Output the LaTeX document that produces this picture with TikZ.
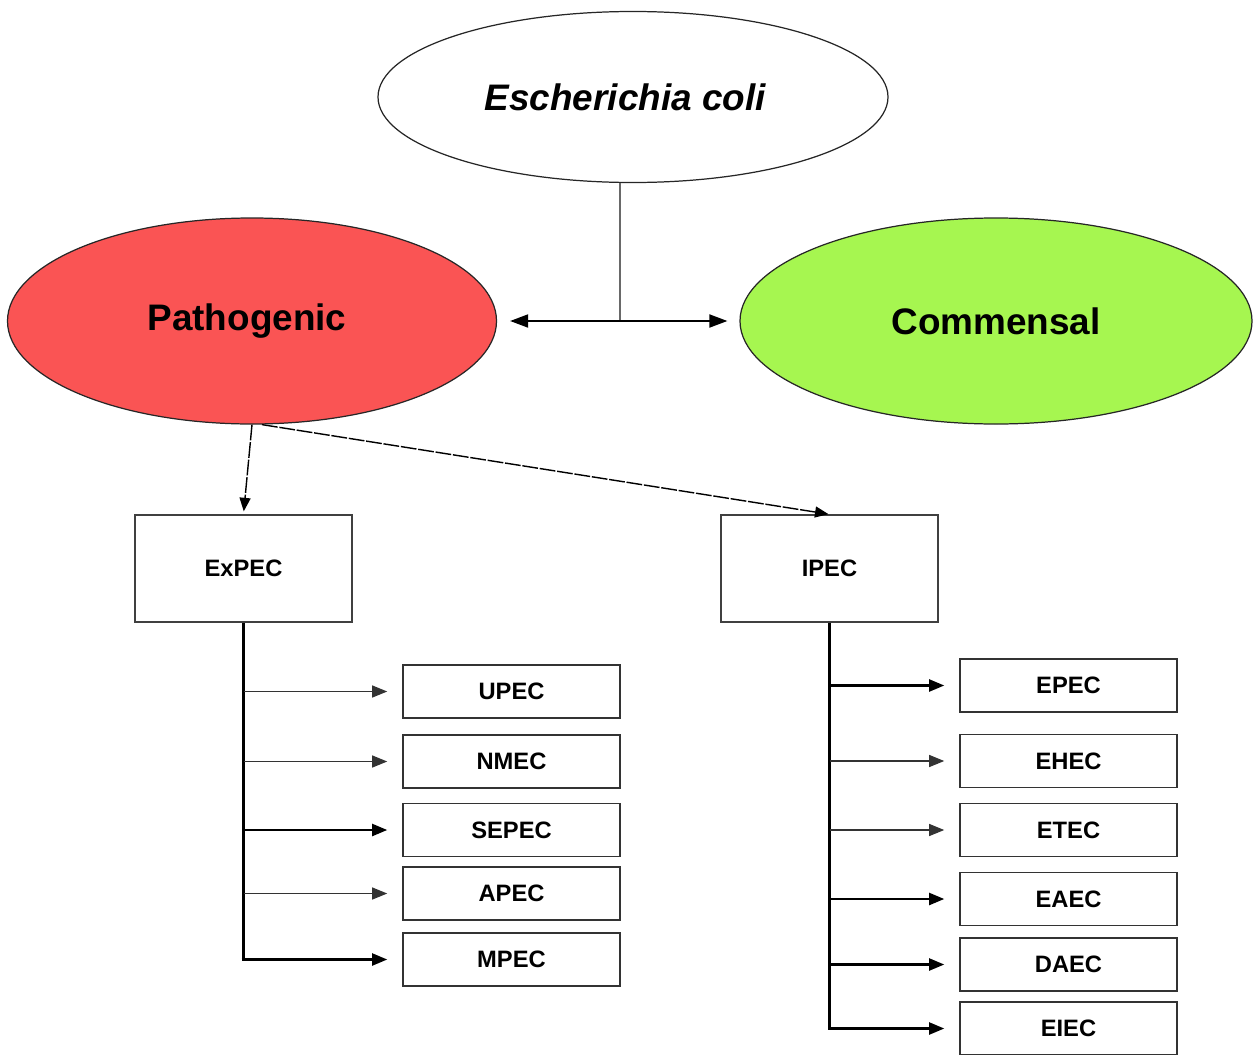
\documentclass[tikz,border=0pt]{standalone}
\usepackage{fontspec}
\setmainfont{Liberation Sans}
\usepackage{tikz}
\usetikzlibrary{shapes.geometric,arrows.meta}

\definecolor{patred}{RGB}{250,84,84}
\definecolor{comgreen}{RGB}{166,246,80}
\definecolor{stemgray}{RGB}{105,105,105}

\begin{document}
\begin{tikzpicture}[
	oval/.style={draw=black!85, line width=0.7pt, ellipse, inner sep=0pt, font=\fontsize{21}{25}\selectfont\bfseries},
	bigbox/.style={draw=black!75, line width=0.8pt, minimum width=4.34cm, minimum height=2.14cm, font=\fontsize{13.5}{16}\selectfont\bfseries},
	subbox/.style={draw=black!80, line width=0.9pt, minimum width=4.34cm, minimum height=1.06cm, font=\fontsize{13.5}{16}\selectfont\bfseries},
	tip/.style={-{Triangle[length=0.3cm,width=0.24cm]}, shorten >=0.3cm},
	thinbranch/.style={tip, line width=0.6pt, draw=black!80},
	fatbranch/.style={tip, line width=1.2pt},
	feed/.style={line width=0.8pt, dash pattern=on 9pt off 1pt, -{Triangle[length=0.27cm,width=0.22cm]}}
	]
	\useasboundingbox (0,0) rectangle (25.14,-21.1);

	% top level
	\node[oval, fill=white, minimum width=10.2cm, minimum height=3.42cm] (ecoli) at (12.66,-1.94) {\textit{Escherichia coli}\hspace*{0.3cm}};
	\node[oval, fill=patred, minimum width=9.78cm, minimum height=4.12cm] (patho) at (5.04,-6.42) {Pathogenic\hspace*{0.2cm}};
	\node[oval, fill=comgreen, minimum width=10.24cm, minimum height=4.12cm] (comm) at (19.92,-6.42) {Commensal};
	\coordinate (split) at (12.4,-6.42);

	\draw[stemgray, line width=1.1pt] (split |- ecoli.south) -- (split);
	\draw[line width=1.1pt, {Triangle[length=0.36cm,width=0.26cm]}-{Triangle[length=0.36cm,width=0.26cm]}, shorten <=0.26cm, shorten >=0.24cm] (patho.east) -- (comm.west);

	% pathotypes
	\node[bigbox] (expec) at (4.87,-11.37) {ExPEC};
	\node[bigbox] (ipec) at (16.59,-11.37) {IPEC};

	\draw[feed, shorten >=0.06cm] (patho.south) -- (expec.north);
	\draw[feed, shorten >=0.02cm] ([xshift=0.2cm]patho.south) -- (ipec.north);

	% ExPEC group
	\node[subbox] (upec) at (10.23,-13.83) {UPEC};
	\node[subbox] (nmec) at (10.23,-15.23) {NMEC};
	\node[subbox] (sepec) at (10.23,-16.60) {SEPEC};
	\node[subbox] (apec) at (10.23,-17.87) {APEC};
	\node[subbox] (mpec) at (10.23,-19.19) {MPEC};

	\draw[line width=2.2pt] (expec.south) -- (expec.south |- mpec.west);
	\draw[thinbranch] (expec.south |- upec.west) -- (upec.west);
	\draw[thinbranch] (expec.south |- nmec.west) -- (nmec.west);
	\draw[fatbranch] (expec.south |- sepec.west) -- (sepec.west);
	\draw[thinbranch] (expec.south |- apec.west) -- (apec.west);
	\draw[fatbranch] ([xshift=-1.1pt]expec.south |- mpec.west) -- (mpec.west);

	% IPEC group
	\node[subbox] (epec) at (21.37,-13.71) {EPEC};
	\node[subbox] (ehec) at (21.37,-15.22) {EHEC};
	\node[subbox] (etec) at (21.37,-16.60) {ETEC};
	\node[subbox] (eaec) at (21.37,-17.98) {EAEC};
	\node[subbox] (daec) at (21.37,-19.29) {DAEC};
	\node[subbox] (eiec) at (21.37,-20.57) {EIEC};

	\draw[line width=1.3pt] (ipec.south) -- (ipec.south |- eiec.west);
	\draw[fatbranch] (ipec.south |- epec.west) -- (epec.west);
	\draw[thinbranch] (ipec.south |- ehec.west) -- (ehec.west);
	\draw[thinbranch] (ipec.south |- etec.west) -- (etec.west);
	\draw[fatbranch] (ipec.south |- eaec.west) -- (eaec.west);
	\draw[fatbranch] (ipec.south |- daec.west) -- (daec.west);
	\draw[fatbranch] ([xshift=-0.65pt]ipec.south |- eiec.west) -- (eiec.west);
\end{tikzpicture}
\end{document}
